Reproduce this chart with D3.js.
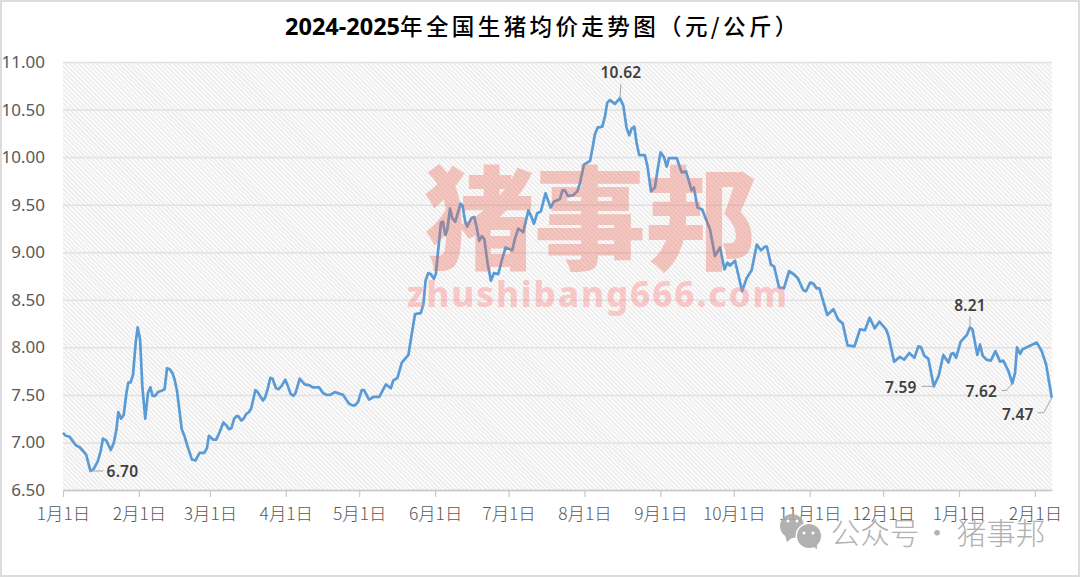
<!DOCTYPE html>
<html lang="zh"><head><meta charset="utf-8">
<script src="https://cdn.jsdelivr.net/npm/d3@7"></script>
<style>
html,body{margin:0;padding:0;background:#fff}
svg{display:block}
text{font-family:"Noto Sans CJK SC","Noto Sans",sans-serif}
</style></head><body><svg id="c" width="1080" height="577"></svg>
<script>
const titleYears = "2024-2025";
const titleRest = "年全国生猪均价走势图（元/公斤）";
const monthStartDays = [0,31,60,91,121,152,182,213,244,274,305,335,366,397];
const monthLabels = ["1月1日","2月1日","3月1日","4月1日","5月1日","6月1日","7月1日","8月1日","9月1日","10月1日","11月1日","12月1日","1月1日","2月1日"];
const priceTicks = [6.5,7,7.5,8,8.5,9,9.5,10,10.5,11];
const daysSinceStart = [0,1.1,2.7,3.8,5.2,6.8,8.2,9.5,11.2,12.5,14.2,15.4,16.3,17.7,19.5,20.7,21.8,22.6,23.7,24.8,25.9,26.7,27.6,28.6,29.7,30.5,31.5,32.4,33.6,34.7,35.7,36.6,37.7,38.8,40,41.5,42.5,43.6,44.7,45.6,46.6,48.5,49.7,51.1,52.7,54.1,55.8,57.7,58.8,59.6,61.3,62.6,64,65.5,66.7,67.8,68.8,69.9,71.1,71.8,72.8,73.8,74.9,76,76.9,78.6,79.5,81.7,82.5,83.6,84.7,85.6,87,88,89.2,90.8,91.9,93,94.1,95,96.7,98.7,100.8,101.9,104.6,106.2,107.6,109.2,111,114.4,116.8,118.2,119.3,120.6,122,123,125,127,129.2,131.9,133.9,134.9,136.6,138.4,141.1,141.9,143.8,146.1,147.2,148.1,149.2,150.2,151.5,152.3,153.4,154.4,155.2,156.2,157,158.1,159,160.2,162.4,163.2,164.3,165.1,166.9,168,169,170,171.1,172.1,173.4,174.8,176,177.8,179.2,180.8,182.6,183.5,184.6,186,188,190.1,191.2,192.4,193.7,195.2,197.1,198.2,199.2,200.5,203,204,205,206.3,208.4,210.1,211.2,212.8,215.3,216.2,217.3,218.4,220.3,221.4,222.3,223.4,225.5,227.5,228.9,230.2,231.3,232.3,233.4,234.3,235.4,237.7,238.7,240.2,241.8,242.9,244.1,245.5,246.6,247.5,250,250.7,252.7,254.5,256.8,257.7,259.2,261.1,264.3,266.3,268.4,270.2,271.4,272.5,274.5,275.9,277.4,279.3,281.3,283.4,285.1,286.8,287.5,289.2,290.5,292.5,294.5,296.6,298.4,300.1,302.4,303.5,305.2,306.5,307.9,309,312.2,314.7,316.7,318.5,320.5,323.3,325.6,327.6,329.5,331.6,333.5,336.2,337.2,339.5,341.9,343.6,345.7,347.8,349.4,350.5,351.9,353.5,355.7,357.7,359.6,361.7,362.8,363.7,364.8,366.7,369.2,370.5,371.5,373.5,374.6,375.7,377.3,379,380.9,382.8,384.1,386.2,387.8,388.9,389.7,391,392,397.8,399.8,401.6,403.9];
const prices = [7.10,7.07,7.06,7.02,6.97,6.95,6.91,6.87,6.70,6.72,6.80,6.91,7.04,7.02,6.92,6.99,7.13,7.32,7.25,7.29,7.52,7.63,7.63,7.71,8.05,8.21,8.08,7.59,7.25,7.52,7.58,7.49,7.49,7.53,7.54,7.56,7.78,7.77,7.73,7.66,7.54,7.14,7.06,6.94,6.82,6.81,6.89,6.89,6.94,7.07,7.03,7.03,7.11,7.21,7.18,7.14,7.15,7.25,7.28,7.27,7.23,7.25,7.30,7.32,7.36,7.55,7.53,7.44,7.47,7.56,7.68,7.67,7.57,7.56,7.59,7.66,7.59,7.51,7.49,7.52,7.67,7.61,7.60,7.58,7.58,7.52,7.50,7.50,7.53,7.50,7.41,7.39,7.39,7.43,7.55,7.55,7.45,7.48,7.48,7.61,7.57,7.65,7.68,7.84,7.92,8.05,8.35,8.36,8.45,8.70,8.78,8.77,8.72,8.77,9.06,9.31,9.32,9.18,9.24,9.46,9.36,9.32,9.51,9.49,9.32,9.27,9.36,9.37,9.26,9.12,9.17,9.14,8.89,8.70,8.78,8.77,8.91,9.05,9.03,9.02,9.14,9.25,9.21,9.44,9.38,9.30,9.41,9.43,9.62,9.54,9.47,9.53,9.56,9.65,9.65,9.59,9.60,9.64,9.73,9.92,9.96,10.08,10.24,10.31,10.32,10.43,10.57,10.60,10.56,10.62,10.54,10.31,10.23,10.30,10.32,10.15,10.02,10.02,9.91,9.64,9.68,9.87,10.05,10.00,9.90,9.99,9.99,9.99,9.84,9.85,9.65,9.68,9.47,9.45,9.24,8.96,9.05,8.82,8.89,8.86,8.91,8.76,8.59,8.73,8.81,9.08,9.02,9.06,9.06,8.87,8.85,8.63,8.62,8.80,8.77,8.73,8.60,8.59,8.68,8.67,8.62,8.62,8.34,8.40,8.29,8.25,8.02,8.01,8.19,8.18,8.31,8.20,8.27,8.19,8.12,7.85,7.90,7.87,7.94,7.89,8.01,8.00,7.91,7.88,7.59,7.70,7.92,7.84,7.93,7.94,7.89,8.06,8.13,8.21,8.19,7.92,8.03,7.91,7.87,7.86,7.96,7.85,7.86,7.75,7.62,7.73,8.00,7.93,7.98,8.05,7.96,7.82,7.47];
const annotatedDays = [11.2,227.5,370.5,355.7,387.8,403.9];
const annotatedValues = [6.70,10.62,8.21,7.59,7.62,7.47];
const brandMark = "猪事邦";
const brandUrl = "zhushibang666.com";
const accountParts = ["公众号","·","猪事邦"];

const svg = d3.select("#c");
const plot = {l:63, r:1052, t:62, b:490};
const x = d3.scaleLinear().domain([0,404]).range([plot.l,plot.r]);
const y = d3.scaleLinear().domain([6.5,11]).range([plot.b,plot.t]);

// frame
svg.append("rect").attr("x",1).attr("y",1).attr("width",1078).attr("height",575)
  .attr("fill","#fff").attr("stroke","#dcdcdc").attr("stroke-width",2);

// hatch
const defs = svg.append("defs");
const pat = defs.append("pattern").attr("id","hatch").attr("width",3.2).attr("height",3.2)
  .attr("patternUnits","userSpaceOnUse").attr("patternTransform","rotate(-45)");
pat.append("rect").attr("width",3.2).attr("height",3.2).attr("fill","#fdfdfd");
pat.append("rect").attr("width",1.5).attr("height",3.2).attr("fill","#ebebeb");
svg.append("rect").attr("x",plot.l).attr("y",plot.t).attr("width",plot.r-plot.l).attr("height",plot.b-plot.t).attr("fill","url(#hatch)");

// y axis + grid
const yAxis = svg.append("g").attr("transform",`translate(${plot.l},0)`)
  .call(d3.axisLeft(y).tickValues(priceTicks).tickFormat(d3.format(".2f")).tickSize(-(plot.r-plot.l)).tickPadding(18));
yAxis.select(".domain").remove();
yAxis.selectAll("line").attr("stroke","#e2e2e2").attr("stroke-width",1.5);
yAxis.selectAll("text").attr("fill","#595959").style("font-size","17px").style("font-family","'Noto Sans',sans-serif");

// x axis
const xAxis = svg.append("g").attr("transform",`translate(0,${plot.b})`)
  .call(d3.axisBottom(x).tickValues(monthStartDays).tickFormat((d,i)=>monthLabels[i]).tickSizeInner(7).tickSizeOuter(0).tickPadding(11));
xAxis.select(".domain").attr("stroke","#c8c8c8").attr("stroke-width",1.5);
xAxis.selectAll("line").attr("stroke","#c8c8c8").attr("stroke-width",1.2);
xAxis.selectAll("text").attr("fill","#595959").style("font-size","17.4px").style("font-weight",300);

// line
svg.append("path").datum(daysSinceStart.map((d,i)=>[d,prices[i]]))
  .attr("fill","none").attr("stroke","#5b9bd5").attr("stroke-width",2.7).attr("stroke-linejoin","round")
  .attr("d",d3.line().x(d=>x(d[0])).y(d=>y(d[1])));

// watermarks
svg.append("text").text(brandMark).attr("x",590).attr("y",261).attr("text-anchor","middle")
  .attr("fill","#ea6a55").attr("fill-opacity",.36).style("font-size","112px").style("font-weight",900).attr("textLength",334);
svg.append("text").text(brandUrl).attr("x",597).attr("y",307).attr("text-anchor","middle")
  .attr("fill","#ff7f7f").attr("fill-opacity",.4).style("font-size","35px").style("font-family","'Noto Sans',sans-serif").style("font-weight",800).attr("textLength",380);

// annotations (label offset and elbow relative to the point)
const labelStyle = [
 {dx:32,dy:1,pts:[[0,0],[13,0]]},
 {dx:1,dy:-26,pts:[[0,0],[1,-14]]},
 {dx:0,dy:-22,pts:[[0,0],[0,-11]]},
 {dx:-33,dy:1,pts:[[0,0],[-12,0]]},
 {dx:-31,dy:8,pts:[[0,0],[-6,7],[-11,7]]},
 {dx:-34,dy:17,pts:[[0,0],[-8,15],[-14,15]]}];
annotatedDays.forEach((d,i)=>{
  const px=x(d), py=y(annotatedValues[i]), s=labelStyle[i];
  svg.append("path").attr("d",d3.line()(s.pts.map(p=>[px+p[0],py+p[1]])))
    .attr("fill","none").attr("stroke","#a6a6a6").attr("stroke-width",1);
  svg.append("text").text(annotatedValues[i].toFixed(2)).attr("x",px+s.dx).attr("y",py+s.dy)
    .attr("dy","0.35em").attr("text-anchor","middle").attr("fill","#404040")
    .style("font-size","15.5px").style("font-weight",600).style("letter-spacing","0.2px").style("font-family","'Noto Sans',sans-serif");
});

// title
const title = svg.append("text").attr("x",285).attr("y",35).attr("fill","#000");
title.append("tspan").text(titleYears).style("font-size","23.5px").style("font-weight",700).style("font-family","'Noto Sans',sans-serif");
title.append("tspan").text(titleRest).style("font-size","22.5px").style("font-weight",500).style("letter-spacing","3.4px");

// account watermark
const wm = svg.append("g").attr("opacity",.9);
wm.append("circle").attr("cx",792).attr("cy",526).attr("r",12).attr("fill","#a9a9a9");
wm.append("path").attr("d","M785 535l2 7 6-5z").attr("fill","#a9a9a9");
wm.append("circle").attr("cx",809).attr("cy",536).attr("r",13.5).attr("fill","#fff");
wm.append("circle").attr("cx",809).attr("cy",536).attr("r",12).attr("fill","#a9a9a9");
wm.append("path").attr("d","M812 546l5 3 0-6z").attr("fill","#a9a9a9");
[[788,521],[797,521],[804,533],[813,533]].forEach(p=>wm.append("circle").attr("cx",p[0]).attr("cy",p[1]).attr("r",1.5).attr("fill","#fff"));
const acctX = [875,937,1001];
accountParts.forEach((t,i)=>wm.append("text").text(t).attr("x",acctX[i]).attr("y",544).attr("text-anchor","middle")
  .attr("fill","#a9a9a9").style("font-size","29.5px").style("font-weight",300));
</script></body></html>
